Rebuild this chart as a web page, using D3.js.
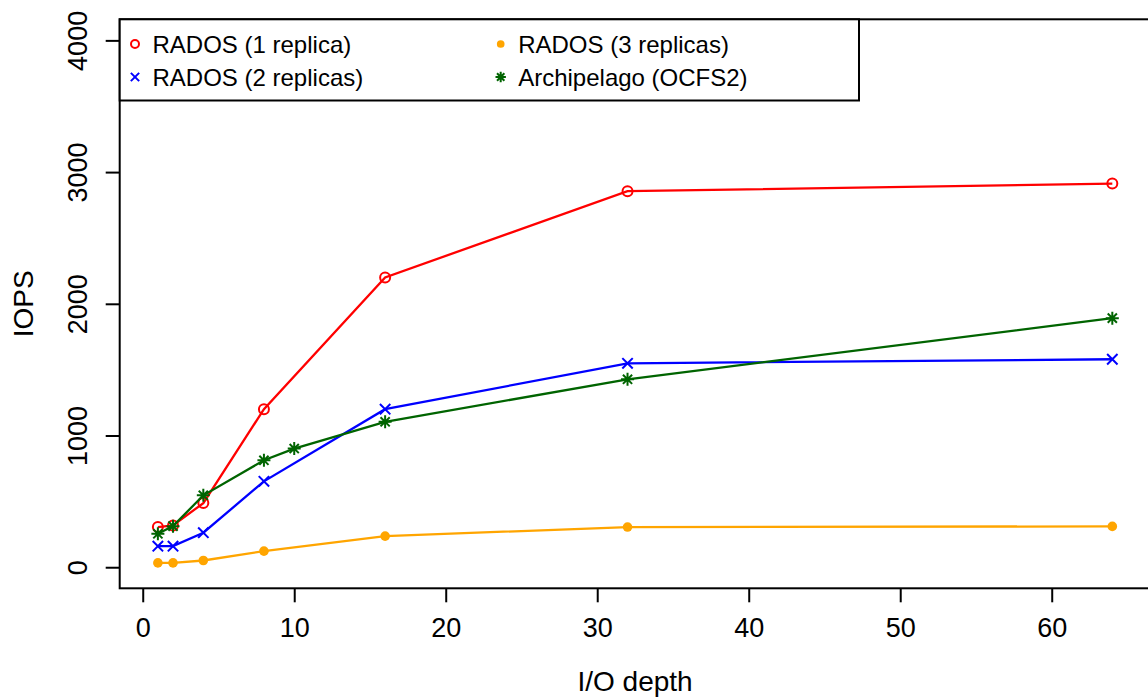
<!DOCTYPE html>
<html>
<head>
<meta charset="utf-8">
<script src="https://cdn.jsdelivr.net/npm/d3@7"></script>
<style>
  html, body { margin: 0; padding: 0; background: #fff; }
  svg { display: block; font-family: "Liberation Sans", Arial, Helvetica, sans-serif; }
</style>
</head>
<body>
<svg id="chart" width="1148" height="699"></svg>
<script>
// I/O depth values used by each benchmark
const depthRados = [1, 2, 4, 8, 16, 32, 64];
const depthArch = [1, 2, 4, 8, 10, 16, 32, 64];

// IOPS measured for each configuration
const rados1 = [305, 317, 487, 1200, 2200, 2855, 2913];
const rados2 = [160, 160, 262, 652, 1200, 1548, 1579];
const rados3 = [33, 33, 51, 122, 236, 305, 310];
const archipelago = [254, 312, 546, 812, 901, 1104, 1427, 1891];

// axis ticks
const xTicks = [0, 10, 20, 30, 40, 50, 60];
const yTicks = [0, 1000, 2000, 3000, 4000];

const seriesNames = ["RADOS (1 replica)", "RADOS (2 replicas)", "RADOS (3 replicas)", "Archipelago (OCFS2)"];
const seriesColors = ["#FF0000", "#0000FF", "#FFA500", "#006400"];
const seriesMarkers = ["circle", "x", "dot", "asterisk"];

const series = [
  { name: seriesNames[0], xs: depthRados, ys: rados1, color: seriesColors[0], marker: seriesMarkers[0] },
  { name: seriesNames[1], xs: depthRados, ys: rados2, color: seriesColors[1], marker: seriesMarkers[1] },
  { name: seriesNames[2], xs: depthRados, ys: rados3, color: seriesColors[2], marker: seriesMarkers[2] },
  { name: seriesNames[3], xs: depthArch, ys: archipelago, color: seriesColors[3], marker: seriesMarkers[3] }
];

const svg = d3.select("#chart");

// plot region (R-style 4% padding around the data range)
const x = d3.scaleLinear().domain([-1.52, 66.52]).range([119.7, 1150.5]);
const y = d3.scaleLinear().domain([-160, 4160]).range([588.3, 19.3]);

const axisFont = 27;
const legendFont = 24;

function markerPath(type, r) {
  const k = r * 0.7071;
  switch (type) {
    case "circle":
    case "dot":
      return `M${-r},0A${r},${r} 0 1,0 ${r},0A${r},${r} 0 1,0 ${-r},0Z`;
    case "x":
      return `M${-r},${-r}L${r},${r}M${-r},${r}L${r},${-r}`;
    case "asterisk":
      return `M${-r},0L${r},0M0,${-r}L0,${r}M${-k},${-k}L${k},${k}M${-k},${k}L${k},${-k}`;
  }
}

function drawMarker(g, type, color, cx, cy, scale) {
  const s = scale || 1;
  const sizes = { circle: 5, dot: 4.8, x: 5.2, asterisk: 6.5 };
  const p = g.append("path")
    .attr("transform", `translate(${cx},${cy})`)
    .attr("d", markerPath(type, sizes[type] * s));
  if (type === "dot") {
    p.attr("fill", color).attr("stroke", "none");
  } else {
    p.attr("fill", "none").attr("stroke", color).attr("stroke-width", 2);
  }
}

// data lines and markers
const line = d3.line().x(d => x(d[0])).y(d => y(d[1]));
const plotG = svg.append("g");
series.forEach(s => {
  const pts = s.xs.map((v, i) => [v, s.ys[i]]);
  plotG.append("path")
    .datum(pts)
    .attr("d", line)
    .attr("fill", "none")
    .attr("stroke", s.color)
    .attr("stroke-width", 2.3);
  pts.forEach(p => drawMarker(plotG, s.marker, s.color, x(p[0]), y(p[1])));
});

// frame around the plot
svg.append("rect")
  .attr("x", x.range()[0]).attr("y", y.range()[1])
  .attr("width", x.range()[1] - x.range()[0])
  .attr("height", y.range()[0] - y.range()[1])
  .attr("fill", "none").attr("stroke", "#000").attr("stroke-width", 2);

// x axis
const xAxis = d3.axisBottom(x).tickValues(xTicks).tickFormat(d3.format("d")).tickSize(14).tickSizeOuter(0);
const xg = svg.append("g").attr("transform", `translate(0,${y.range()[0]})`).call(xAxis);
xg.select(".domain").remove();
xg.selectAll(".tick line").attr("stroke", "#000").attr("stroke-width", 2);
xg.selectAll(".tick text")
  .attr("font-size", axisFont)
  .attr("font-family", "Liberation Sans, Arial, sans-serif")
  .attr("fill", "#000")
  .attr("dy", null)
  .attr("y", 49);

// y axis with labels rotated parallel to the axis
const yAxis = d3.axisLeft(y).tickValues(yTicks).tickFormat(d3.format("d")).tickSize(14).tickSizeOuter(0);
const yg = svg.append("g").attr("transform", `translate(${x.range()[0]},0)`).call(yAxis);
yg.select(".domain").remove();
yg.selectAll(".tick line").attr("stroke", "#000").attr("stroke-width", 2);
yg.selectAll(".tick text")
  .attr("font-size", axisFont)
  .attr("font-family", "Liberation Sans, Arial, sans-serif")
  .attr("fill", "#000")
  .attr("x", null).attr("dy", null)
  .attr("text-anchor", "middle")
  .attr("transform", "translate(-32.5,0) rotate(-90)");

// axis titles
svg.append("text")
  .attr("x", (x.range()[0] + x.range()[1]) / 2)
  .attr("y", 691)
  .attr("text-anchor", "middle")
  .attr("font-size", 28)
  .text("I/O depth");

svg.append("text")
  .attr("transform", `translate(33,${(y.range()[0] + y.range()[1]) / 2}) rotate(-90)`)
  .attr("text-anchor", "middle")
  .attr("font-size", 28)
  .text("IOPS");

// legend
const legend = svg.append("g");
legend.append("rect")
  .attr("x", x.range()[0]).attr("y", y.range()[1])
  .attr("width", 859 - x.range()[0]).attr("height", 100.5 - y.range()[1])
  .attr("fill", "#fff").attr("stroke", "#000").attr("stroke-width", 2);

const legendCols = [135, 500.7];
const legendRows = [44, 77];
series.forEach((s, i) => {
  const col = Math.floor(i / 2), row = i % 2;
  const cx = legendCols[col], cy = legendRows[row];
  drawMarker(legend, s.marker, s.color, cx, cy, 0.8);
  legend.append("text")
    .attr("x", cx + 17.5)
    .attr("y", cy + 9)
    .attr("font-size", legendFont)
    .attr("fill", "#000")
    .text(s.name);
});
</script>
</body>
</html>
